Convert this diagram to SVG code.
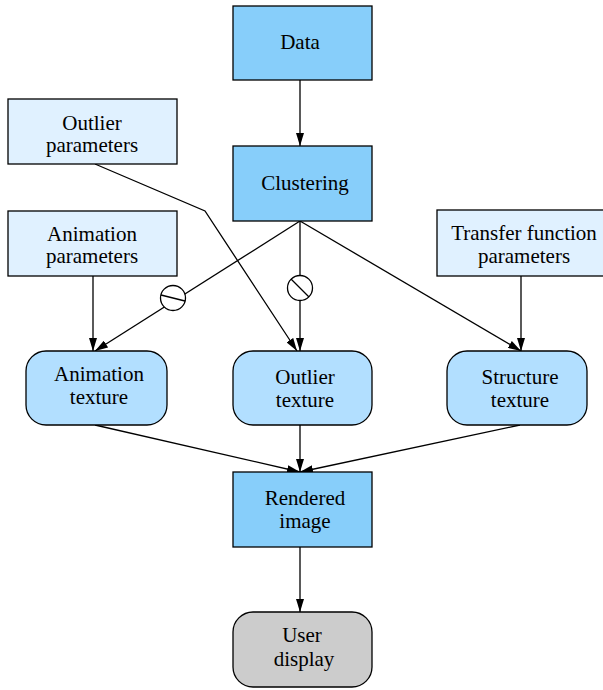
<svg xmlns="http://www.w3.org/2000/svg" width="603" height="690" viewBox="0 0 603 690">
<defs>
<marker id="ah" viewBox="0 0 13 8" refX="13" refY="4" markerWidth="13" markerHeight="8" markerUnits="userSpaceOnUse" orient="auto">
<path d="M0,0 L13,4 L0,8 z" fill="#000"/>
</marker>
</defs>
<style>
.main{fill:#87cefa;stroke:#000;stroke-width:1.3}
.param{fill:#e0f1ff;stroke:#000;stroke-width:1.3}
.tex{fill:#b2dfff;stroke:#000;stroke-width:1.3}
.user{fill:#cccccc;stroke:#000;stroke-width:1.3}
.e{fill:none;stroke:#000;stroke-width:1.3}
.c{fill:#fff;stroke:#000;stroke-width:1.3}
</style>
<g id="connectors">
<line class="e" x1="300" y1="80" x2="300" y2="146" marker-end="url(#ah)"/>
<line class="e" x1="300" y1="221" x2="95" y2="351" marker-end="url(#ah)"/>
<line class="e" x1="300" y1="221" x2="300" y2="351" marker-end="url(#ah)"/>
<line class="e" x1="300" y1="221" x2="521" y2="351" marker-end="url(#ah)"/>
<polyline class="e" points="95,164 205,211 297,351" marker-end="url(#ah)"/>
<line class="e" x1="93" y1="276" x2="93" y2="351" marker-end="url(#ah)"/>
<line class="e" x1="521" y1="276" x2="521" y2="351" marker-end="url(#ah)"/>
<line class="e" x1="95" y1="425" x2="300" y2="472" marker-end="url(#ah)"/>
<line class="e" x1="300" y1="425" x2="300" y2="472" marker-end="url(#ah)"/>
<line class="e" x1="520" y1="425" x2="300" y2="472" marker-end="url(#ah)"/>
<line class="e" x1="300" y1="547" x2="300" y2="612" marker-end="url(#ah)"/>
<circle class="c" cx="173" cy="298" r="12.5"/>
<line class="e" x1="161" y1="295" x2="185" y2="301"/>
<circle class="c" cx="300" cy="288" r="12.5"/>
<line class="e" x1="291" y1="279" x2="309" y2="297"/>
</g>
<g font-family="'Liberation Serif', 'Times New Roman', serif" font-size="21" text-anchor="middle" fill="#000">
<g id="data">
<rect class="main" x="233" y="6" width="139" height="74"/>
<text x="300" y="49">Data</text>
</g>
<g id="clustering">
<rect class="main" x="233" y="146" width="139" height="75"/>
<text x="305" y="190">Clustering</text>
</g>
<g id="outlier-params">
<rect class="param" x="8" y="99" width="169" height="65"/>
<text x="92" y="130">Outlier</text>
<text x="92" y="152">parameters</text>
</g>
<g id="animation-params">
<rect class="param" x="8" y="211" width="169" height="65"/>
<text x="92" y="241">Animation</text>
<text x="92" y="263">parameters</text>
</g>
<g id="transfer-params">
<rect class="param" x="437" y="210" width="170" height="66"/>
<text x="524" y="240">Transfer function</text>
<text x="524" y="263">parameters</text>
</g>
<g id="animation-texture">
<rect class="tex" x="26" y="351" width="141" height="74" rx="20" ry="20"/>
<text x="99" y="381">Animation</text>
<text x="99" y="404">texture</text>
</g>
<g id="outlier-texture">
<rect class="tex" x="233" y="351" width="139" height="74" rx="20" ry="20"/>
<text x="305" y="384">Outlier</text>
<text x="305" y="407">texture</text>
</g>
<g id="structure-texture">
<rect class="tex" x="447" y="351" width="140" height="74" rx="20" ry="20"/>
<text x="520" y="384">Structure</text>
<text x="520" y="407">texture</text>
</g>
<g id="rendered-image">
<rect class="main" x="233" y="472" width="139" height="75"/>
<text x="305" y="505">Rendered</text>
<text x="305" y="528">image</text>
</g>
<g id="user-display">
<rect class="user" x="233" y="612" width="139" height="75" rx="20" ry="20"/>
<text x="302" y="642">User</text>
<text x="304" y="666">display</text>
</g>
</g>
</svg>
